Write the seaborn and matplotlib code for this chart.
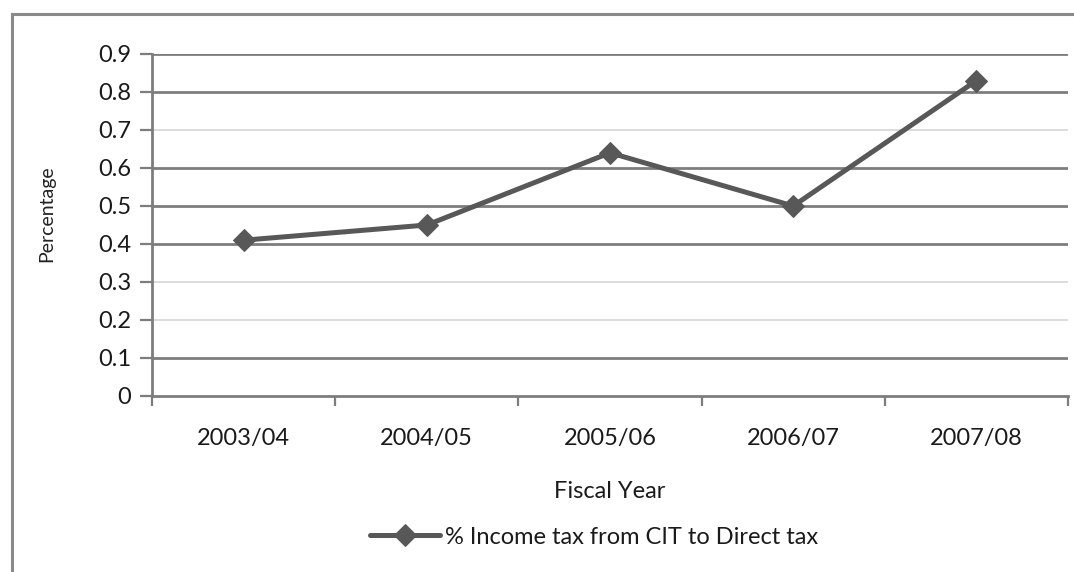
import matplotlib
matplotlib.use("Agg")
import matplotlib.pyplot as plt
from matplotlib.patches import Rectangle
from matplotlib.ticker import FixedLocator
import seaborn as sns
import pandas as pd

years = ["2003/04", "2004/05", "2005/06", "2006/07", "2007/08"]
share = [0.41, 0.45, 0.64, 0.50, 0.83]
series_label = "% Income tax from CIT to Direct tax"
y_ticks = [0, 0.1, 0.2, 0.3, 0.4, 0.5, 0.6, 0.7, 0.8, 0.9]
y_tick_labels = ["0", "0.1", "0.2", "0.3", "0.4", "0.5", "0.6", "0.7", "0.8", "0.9"]

sns.set_theme(style="white")
plt.rcParams["font.family"] = ["Lato", "DejaVu Sans"]

df = pd.DataFrame({"Fiscal Year": years, "Share": share})

fig = plt.figure(figsize=(10.74, 5.72), dpi=100)
fig.patch.set_facecolor("white")

# outer chart frame (runs off the right and bottom edges)
fig.patches.append(Rectangle((12 / 1074, -0.1), 1.2, 1 - 14 / 572 + 0.1,
                             transform=fig.transFigure, fill=False,
                             edgecolor="#8a8a8a", linewidth=2.2, zorder=0))

ax = fig.add_axes([152 / 1074, 1 - 396 / 572, (1068 - 152) / 1074, (396 - 54) / 572])
ax.set_facecolor("white")

# horizontal gridlines
for v in y_ticks[1:]:
    heavy = round(v, 1) not in (0.2, 0.3, 0.7)
    ax.axhline(v, color="#7d7d7d" if heavy else "#d6d6d6",
               linewidth=2.0 if heavy else 1.2, zorder=1)

sns.lineplot(data=df, x="Fiscal Year", y="Share", ax=ax, color="#585858",
             linewidth=3.6, marker="D", markersize=11, markeredgecolor="#585858",
             label=series_label, zorder=3, legend=False)

ax.set_xlim(-0.5, 4.5)
ax.set_ylim(0, 0.9)
ax.set_yticks(y_ticks)
ax.set_yticklabels(y_tick_labels)
ax.set_xticks(range(len(years)))
ax.set_xticklabels(years)
ax.xaxis.set_minor_locator(FixedLocator([i - 0.5 for i in range(len(years) + 1)]))

for side in ("top", "right"):
    ax.spines[side].set_visible(False)
for side in ("left", "bottom"):
    ax.spines[side].set_color("#7d7d7d")
    ax.spines[side].set_linewidth(2.0)

ax.tick_params(axis="y", which="major", left=True, length=9, width=1.6,
               color="#7d7d7d", labelsize=17, pad=6, labelcolor="#1a1a1a")
ax.tick_params(axis="x", which="major", bottom=False, length=0,
               labelsize=17, pad=23, labelcolor="#1a1a1a")
ax.tick_params(axis="x", which="minor", bottom=True, length=7, width=1.6,
               color="#7d7d7d")

ax.set_xlabel("Fiscal Year", fontsize=17, color="#1a1a1a", labelpad=23)
ax.set_ylabel("")
fig.text(47 / 1074, 1 - 214 / 572, "Percentage", rotation=90, fontsize=14,
         ha="center", va="center", color="#222222")

handles, labels = ax.get_legend_handles_labels()
fig.legend(handles, labels, loc="center", bbox_to_anchor=(594 / 1074, 1 - 537 / 572),
           frameon=False, fontsize=17, handlelength=3.0, handletextpad=0.2,
           labelcolor="#1a1a1a")

fig.savefig("out.png", dpi=100, facecolor="white")
